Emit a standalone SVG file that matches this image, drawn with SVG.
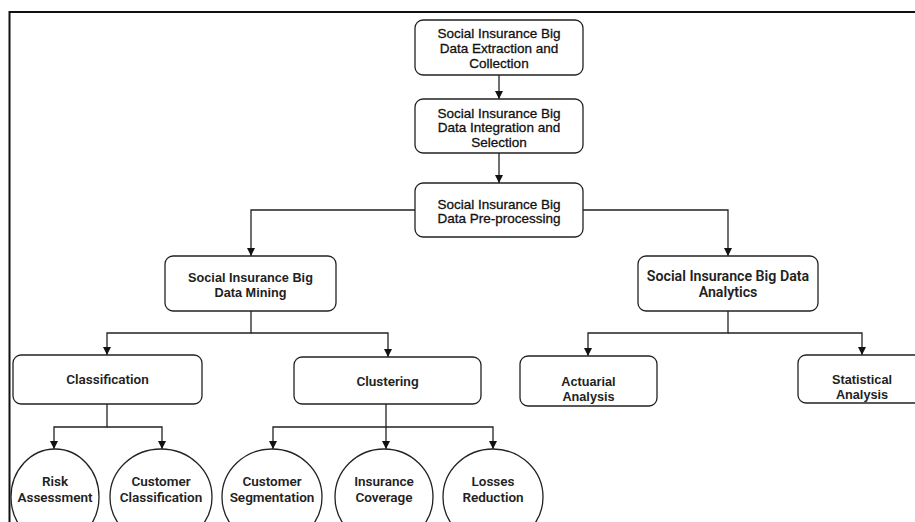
<svg xmlns="http://www.w3.org/2000/svg" width="915" height="522" viewBox="0 0 915 522">
<style>
.bx{fill:#fff;stroke:#222;stroke-width:1.3}
.el{fill:#fff;stroke:#222;stroke-width:1.3}
.ln{fill:none;stroke:#222;stroke-width:1.3}
.ta{font-family:"Liberation Sans",Arial,sans-serif;font-size:13.5px;fill:#111;stroke:#111;stroke-width:0.3;text-anchor:middle}
.tb{font-family:"Liberation Sans",Arial,sans-serif;font-size:12.7px;font-weight:bold;fill:#222;text-anchor:middle}
.tc{font-family:Roboto,"Open Sans",sans-serif;font-size:13.5px;font-weight:600;fill:#222;text-anchor:middle}
.tw{font-size:14.2px}
</style>
<defs>
<marker id="ah" markerUnits="userSpaceOnUse" markerWidth="9" markerHeight="9" refX="8" refY="4" orient="auto" viewBox="0 0 9 8">
<path d="M0,0 L8,4 L0,8 z" fill="#111"/>
</marker>
</defs>
<rect width="915" height="522" fill="#fff"/>
<path d="M9.5,522 V12 H915" fill="none" stroke="#111" stroke-width="2"/>
<g id="connectors">
<path class="ln" d="M499,75 V99" marker-end="url(#ah)"/>
<path class="ln" d="M499,153 V183" marker-end="url(#ah)"/>
<path class="ln" d="M415,210 H251 V256" marker-end="url(#ah)"/>
<path class="ln" d="M583,210 H728 V256" marker-end="url(#ah)"/>
<path class="ln" d="M251,311 V333 H107 V355" marker-end="url(#ah)"/>
<path class="ln" d="M251,333 H388 V357" marker-end="url(#ah)"/>
<path class="ln" d="M728,311 V333 H588 V356" marker-end="url(#ah)"/>
<path class="ln" d="M728,333 H862 V355" marker-end="url(#ah)"/>
<path class="ln" d="M107,404 V427 H54 V449" marker-end="url(#ah)"/>
<path class="ln" d="M107,427 H162 V449" marker-end="url(#ah)"/>
<path class="ln" d="M386,404 V427 H273 V449" marker-end="url(#ah)"/>
<path class="ln" d="M386,427 V449" marker-end="url(#ah)"/>
<path class="ln" d="M386,427 H493 V449" marker-end="url(#ah)"/>
</g>
<g id="extraction">
<rect class="bx" x="415" y="20" width="168" height="55" rx="8"/>
<text class="ta" x="499" y="38">Social Insurance Big</text>
<text class="ta" x="499" y="53">Data Extraction and</text>
<text class="ta" x="499" y="68">Collection</text>
</g>
<g id="integration">
<rect class="bx" x="415" y="99" width="168" height="54" rx="8"/>
<text class="ta" x="499" y="118">Social Insurance Big</text>
<text class="ta" x="499" y="132">Data Integration and</text>
<text class="ta" x="499" y="147">Selection</text>
</g>
<g id="preprocessing">
<rect class="bx" x="415" y="183" width="168" height="54" rx="8"/>
<text class="ta" x="499" y="209">Social Insurance Big</text>
<text class="ta" x="499" y="223">Data Pre-processing</text>
</g>
<g id="mining">
<rect class="bx" x="165" y="256" width="171" height="55" rx="8"/>
<text class="tb" x="250.5" y="282">Social Insurance Big</text>
<text class="tb" x="250.5" y="297">Data Mining</text>
</g>
<g id="analytics">
<rect class="bx" x="638" y="256" width="180" height="55" rx="8"/>
<text class="tc tw" x="728" y="281">Social Insurance Big Data</text>
<text class="tc tw" x="728" y="297">Analytics</text>
</g>
<g id="classification">
<rect class="bx" x="13" y="355" width="189" height="49" rx="8"/>
<text class="tc" x="107.5" y="384">Classification</text>
</g>
<g id="clustering">
<rect class="bx" x="294" y="357" width="187" height="47" rx="8"/>
<text class="tc" x="387.5" y="386">Clustering</text>
</g>
<g id="actuarial">
<rect class="bx" x="520" y="356" width="137" height="50" rx="8"/>
<text class="tb" x="588.5" y="386">Actuarial</text>
<text class="tb" x="588.5" y="401">Analysis</text>
</g>
<g id="statistical">
<rect class="bx" x="798" y="355" width="128" height="48" rx="8"/>
<text class="tb" x="862" y="384">Statistical</text>
<text class="tb" x="862" y="399">Analysis</text>
</g>
<g id="risk">
<ellipse class="el" cx="55" cy="497" rx="44" ry="48"/>
<text class="tc" x="55" y="486">Risk</text>
<text class="tc" x="55" y="502">Assessment</text>
</g>
<g id="customer-classification">
<ellipse class="el" cx="161" cy="497" rx="51" ry="48"/>
<text class="tc" x="161" y="486">Customer</text>
<text class="tc" x="161" y="502">Classification</text>
</g>
<g id="segmentation">
<ellipse class="el" cx="272" cy="497" rx="50" ry="48"/>
<text class="tc" x="272" y="486">Customer</text>
<text class="tc" x="272" y="502">Segmentation</text>
</g>
<g id="coverage">
<ellipse class="el" cx="384" cy="497" rx="49" ry="48"/>
<text class="tc" x="384" y="486">Insurance</text>
<text class="tc" x="384" y="502">Coverage</text>
</g>
<g id="losses">
<ellipse class="el" cx="493" cy="497" rx="50" ry="48"/>
<text class="tc" x="493" y="486">Losses</text>
<text class="tc" x="493" y="502">Reduction</text>
</g>
</svg>
